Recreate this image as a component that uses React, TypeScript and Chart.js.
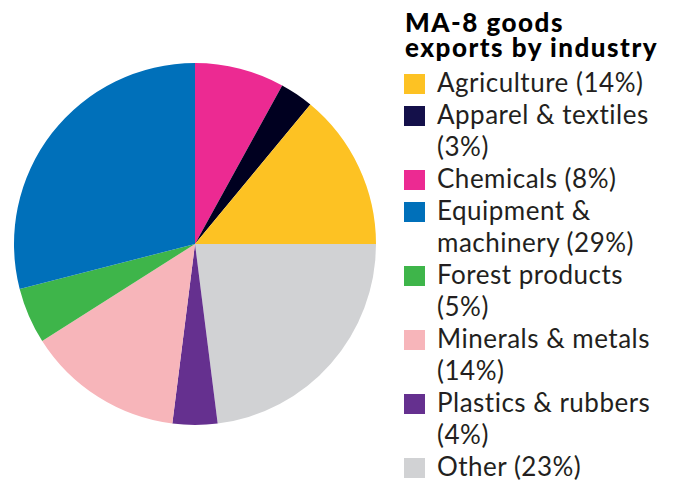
import React, { useEffect, useRef } from "react";
import { Chart, registerables } from "chart.js";

Chart.register(...registerables);

const title = ["MA-8 goods", "exports by industry"];
const categories = [
  "Agriculture",
  "Apparel & textiles",
  "Chemicals",
  "Equipment & machinery",
  "Forest products",
  "Minerals & metals",
  "Plastics & rubbers",
  "Other",
];
const shares = [14, 3, 8, 29, 5, 14, 4, 23];
const colors = [
  "#FDC223",
  "#14104A",
  "#EC2A92",
  "#0070BA",
  "#3EB54A",
  "#F7B5BA",
  "#65308F",
  "#D1D2D4",
];
// slice order, clockwise from 12 o'clock
const sliceOrder = [
  "Chemicals",
  "Apparel & textiles",
  "Agriculture",
  "Other",
  "Plastics & rubbers",
  "Minerals & metals",
  "Forest products",
  "Equipment & machinery",
];

const FONT = "Lato, 'Open Sans', sans-serif";

export default function App() {
  const ref = useRef<HTMLCanvasElement | null>(null);

  useEffect(() => {
    if (!ref.current) return;
    const idx = sliceOrder.map((n) => categories.indexOf(n));
    const chart = new Chart(ref.current, {
      type: "pie",
      data: {
        labels: idx.map((i) => categories[i]),
        datasets: [
          {
            data: idx.map((i) => shares[i]),
            backgroundColor: idx.map((i) => (categories[i] === "Apparel & textiles" ? "#000020" : colors[i])),
            borderWidth: 0,
          },
        ],
      },
      options: {
        animation: false,
        responsive: false,
        maintainAspectRatio: false,
        layout: { padding: 10 },
        plugins: {
          legend: { display: false },
          tooltip: { enabled: false },
          title: { display: false },
        },
      },
    });
    return () => chart.destroy();
  }, []);

  return (
    <div
      style={{
        position: "fixed",
        left: 0,
        top: 0,
        width: 677,
        height: 481,
        background: "#fff",
        overflow: "hidden",
      }}
    >
      <canvas
        ref={ref}
        width={382}
        height={382}
        style={{ position: "absolute", left: 4, top: 53, width: 382, height: 382 }}
      />
      <div
        style={{
          position: "absolute",
          left: 405,
          top: 10,
          fontFamily: FONT,
          fontWeight: 900,
          fontSize: 26,
          lineHeight: "25px",
          color: "#000",
          letterSpacing: "1.5px",
          whiteSpace: "nowrap",
        }}
      >
        {title.map((t) => (
          <div key={t}>{t}</div>
        ))}
      </div>
      <div style={{ position: "absolute", left: 404, top: 66, fontFamily: FONT, color: "#231F20" }}>
        {categories.map((c, i) => (
          <div
            key={c}
            style={{
              position: "relative",
              paddingLeft: 33,
              width: 235,
              fontSize: 26,
              fontWeight: 400,
              letterSpacing: "0.5px",
              lineHeight: "32px",
            }}
          >
            <span
              style={{
                position: "absolute",
                left: 0,
                top: 8,
                width: 21,
                height: 20,
                background: colors[i],
              }}
            />
            {c} ({shares[i]}%)
          </div>
        ))}
      </div>
    </div>
  );
}
